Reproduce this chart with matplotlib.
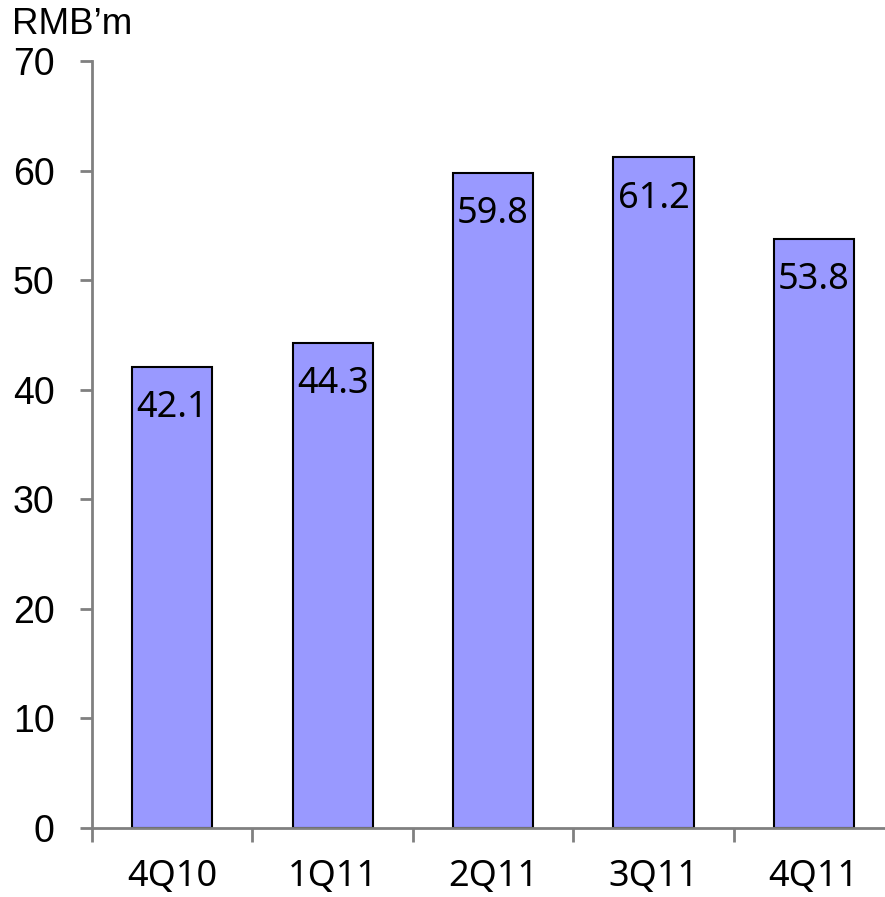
import matplotlib
matplotlib.use('Agg')
import matplotlib.pyplot as plt
import numpy as np

quarters = ["4Q10", "1Q11", "2Q11", "3Q11", "4Q11"]
values = [42.1, 44.3, 59.8, 61.2, 53.8]
y_ticks = [0, 10, 20, 30, 40, 50, 60, 70]

fig = plt.figure(figsize=(8.85, 8.97), dpi=100, facecolor="white")
ax = fig.add_axes([92 / 885, 69 / 897, 802 / 885, 767 / 897])

x = np.arange(len(quarters))
bars = ax.bar(x, values, width=0.5, color="#9999FF", edgecolor="black", linewidth=1.5, zorder=2)

# value labels sit just inside the top of each bar
for xi, v in zip(x, values):
    ax.annotate(f"{v:.1f}", xy=(xi, v), xytext=(0, -30), textcoords="offset points",
                ha="center", va="center", fontsize=26, family="Noto Sans", color="black")

ax.set_xlim(-0.5, len(quarters) - 0.5)
ax.set_ylim(0, 70)

ax.set_yticks(y_ticks)
ax.set_yticklabels([str(t) for t in y_ticks], fontsize=27, family="Liberation Sans")
ax.set_xticks(x)
ax.set_xticklabels(quarters, fontsize=26, family="Noto Sans")
ax.tick_params(axis="x", length=0, pad=22)
ax.tick_params(axis="y", length=9, width=2, color="#808080", pad=18)

# category separators on the x axis
ax.set_xticks(np.arange(-0.5, len(quarters), 1.0), minor=True)
ax.tick_params(axis="x", which="minor", length=10, width=2, color="#808080", direction="out")

for spine in ["top", "right"]:
    ax.spines[spine].set_visible(False)
for spine in ["left", "bottom"]:
    ax.spines[spine].set_color("#808080")
    ax.spines[spine].set_linewidth(2)

fig.text(12 / 885, 1 - 24 / 897, "RMB\u2019m", fontsize=26.5, family="Liberation Sans",
         ha="left", va="center")

fig.savefig("out.png", dpi=100, facecolor="white")
